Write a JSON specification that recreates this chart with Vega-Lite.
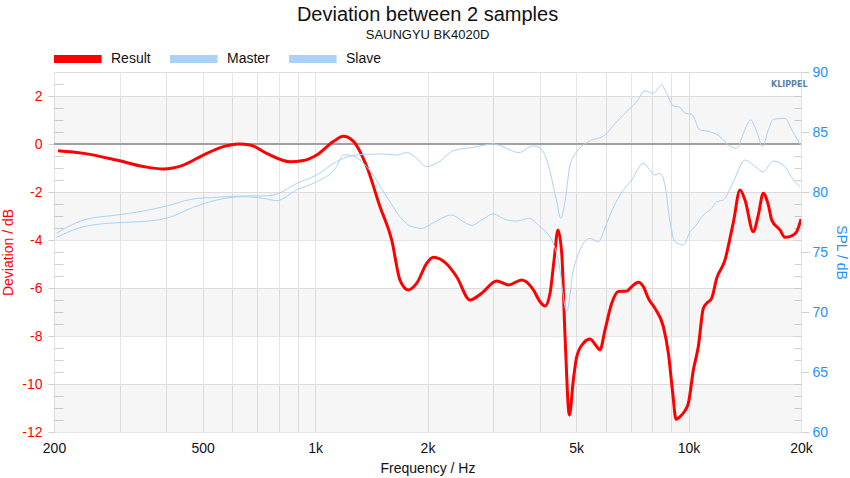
{
  "$schema": "https://vega.github.io/schema/vega-lite/v6.json",
  "width": 747,
  "height": 360,
  "autosize": {"type": "none"},
  "padding": {"left": 54, "top": 72, "right": 49, "bottom": 46},
  "background": "white",
  "title": {
    "text": "Deviation between 2 samples",
    "subtitle": "SAUNGYU BK4020D",
    "font": "Liberation Sans",
    "subtitleFont": "Liberation Sans",
    "fontSize": 20,
    "subtitleFontSize": 13,
    "fontWeight": "normal",
    "color": "#111111",
    "subtitleColor": "#111111",
    "anchor": "middle",
    "offset": 8,
    "subtitlePadding": 4
  },
  "config": {
    "font": "Liberation Sans",
    "view": {"stroke": "#dddddd"},
    "legend": {
      "orient": "none",
      "legendX": 14.8,
      "legendY": -22,
      "direction": "horizontal",
      "title": null,
      "symbolType": "M-4.76,0H4.76",
      "symbolSize": 100,
      "symbolStrokeWidth": 8,
      "labelFontSize": 14,
      "labelFont": "Liberation Sans",
      "labelColor": "#111111",
      "labelOffset": 24.2,
      "columnPadding": 3
    }
  },
  "datasets": {
    "curves": [
      {"series": "Result", "freq": 205, "value": -0.28},
      {"series": "Result", "freq": 240, "value": -0.39},
      {"series": "Result", "freq": 294, "value": -0.67},
      {"series": "Result", "freq": 347, "value": -0.94},
      {"series": "Result", "freq": 392, "value": -1.04},
      {"series": "Result", "freq": 444, "value": -0.88},
      {"series": "Result", "freq": 502, "value": -0.46},
      {"series": "Result", "freq": 568, "value": -0.11},
      {"series": "Result", "freq": 623, "value": 0.0},
      {"series": "Result", "freq": 670, "value": -0.04},
      {"series": "Result", "freq": 742, "value": -0.39},
      {"series": "Result", "freq": 857, "value": -0.74},
      {"series": "Result", "freq": 930, "value": -0.69},
      {"series": "Result", "freq": 1010, "value": -0.46},
      {"series": "Result", "freq": 1119, "value": 0.1},
      {"series": "Result", "freq": 1190, "value": 0.32},
      {"series": "Result", "freq": 1265, "value": 0.12},
      {"series": "Result", "freq": 1375, "value": -0.94},
      {"series": "Result", "freq": 1492, "value": -2.61},
      {"series": "Result", "freq": 1604, "value": -4.0},
      {"series": "Result", "freq": 1688, "value": -5.67},
      {"series": "Result", "freq": 1777, "value": -6.08},
      {"series": "Result", "freq": 1872, "value": -5.8},
      {"series": "Result", "freq": 1990, "value": -4.97},
      {"series": "Result", "freq": 2073, "value": -4.72},
      {"series": "Result", "freq": 2251, "value": -5.0},
      {"series": "Result", "freq": 2394, "value": -5.53},
      {"series": "Result", "freq": 2600, "value": -6.5},
      {"series": "Result", "freq": 2793, "value": -6.22},
      {"series": "Result", "freq": 3064, "value": -5.71},
      {"series": "Result", "freq": 3291, "value": -5.87},
      {"series": "Result", "freq": 3575, "value": -5.67},
      {"series": "Result", "freq": 3842, "value": -6.08},
      {"series": "Result", "freq": 4002, "value": -6.57},
      {"series": "Result", "freq": 4128, "value": -6.75},
      {"series": "Result", "freq": 4257, "value": -6.22},
      {"series": "Result", "freq": 4364, "value": -4.83},
      {"series": "Result", "freq": 4470, "value": -3.58},
      {"series": "Result", "freq": 4575, "value": -4.55},
      {"series": "Result", "freq": 4670, "value": -8.03},
      {"series": "Result", "freq": 4796, "value": -11.29},
      {"series": "Result", "freq": 4915, "value": -9.83},
      {"series": "Result", "freq": 5019, "value": -8.86},
      {"series": "Result", "freq": 5228, "value": -8.3},
      {"series": "Result", "freq": 5446, "value": -8.13},
      {"series": "Result", "freq": 5676, "value": -8.44},
      {"series": "Result", "freq": 5792, "value": -8.58},
      {"series": "Result", "freq": 5973, "value": -7.75},
      {"series": "Result", "freq": 6227, "value": -6.64},
      {"series": "Result", "freq": 6485, "value": -6.15},
      {"series": "Result", "freq": 6831, "value": -6.13},
      {"series": "Result", "freq": 7046, "value": -5.94},
      {"series": "Result", "freq": 7336, "value": -5.76},
      {"series": "Result", "freq": 7565, "value": -5.94},
      {"series": "Result", "freq": 7804, "value": -6.43},
      {"series": "Result", "freq": 8131, "value": -6.85},
      {"series": "Result", "freq": 8560, "value": -7.61},
      {"series": "Result", "freq": 8830, "value": -8.72},
      {"series": "Result", "freq": 9071, "value": -10.39},
      {"series": "Result", "freq": 9257, "value": -11.47},
      {"series": "Result", "freq": 9490, "value": -11.36},
      {"series": "Result", "freq": 9786, "value": -11.11},
      {"series": "Result", "freq": 9989, "value": -10.8},
      {"series": "Result", "freq": 10300, "value": -9.42},
      {"series": "Result", "freq": 10620, "value": -8.44},
      {"series": "Result", "freq": 10950, "value": -6.85},
      {"series": "Result", "freq": 11180, "value": -6.64},
      {"series": "Result", "freq": 11530, "value": -6.43},
      {"series": "Result", "freq": 11890, "value": -5.6},
      {"series": "Result", "freq": 12520, "value": -4.83},
      {"series": "Result", "freq": 13050, "value": -3.58},
      {"series": "Result", "freq": 13190, "value": -3.24},
      {"series": "Result", "freq": 13730, "value": -1.92},
      {"series": "Result", "freq": 14160, "value": -2.33},
      {"series": "Result", "freq": 14900, "value": -3.65},
      {"series": "Result", "freq": 15370, "value": -2.96},
      {"series": "Result", "freq": 15850, "value": -2.05},
      {"series": "Result", "freq": 16350, "value": -2.54},
      {"series": "Result", "freq": 16700, "value": -3.17},
      {"series": "Result", "freq": 17570, "value": -3.58},
      {"series": "Result", "freq": 18120, "value": -3.89},
      {"series": "Result", "freq": 19080, "value": -3.79},
      {"series": "Result", "freq": 19480, "value": -3.65},
      {"series": "Result", "freq": 20000, "value": -3.13},

      {"series": "Master", "freq": 203, "value": 76.56},
      {"series": "Master", "freq": 240, "value": 77.67},
      {"series": "Master", "freq": 294, "value": 78.08},
      {"series": "Master", "freq": 340, "value": 78.36},
      {"series": "Master", "freq": 400, "value": 78.83},
      {"series": "Master", "freq": 472, "value": 79.42},
      {"series": "Master", "freq": 545, "value": 79.56},
      {"series": "Master", "freq": 643, "value": 79.67},
      {"series": "Master", "freq": 727, "value": 79.67},
      {"series": "Master", "freq": 790, "value": 79.83},
      {"series": "Master", "freq": 893, "value": 80.72},
      {"series": "Master", "freq": 1010, "value": 81.42},
      {"series": "Master", "freq": 1142, "value": 82.53},
      {"series": "Master", "freq": 1190, "value": 82.8},
      {"series": "Master", "freq": 1265, "value": 83.05},
      {"series": "Master", "freq": 1375, "value": 83.14},
      {"series": "Master", "freq": 1523, "value": 83.17},
      {"series": "Master", "freq": 1654, "value": 83.08},
      {"series": "Master", "freq": 1759, "value": 83.28},
      {"series": "Master", "freq": 1852, "value": 82.94},
      {"series": "Master", "freq": 1990, "value": 82.11},
      {"series": "Master", "freq": 2117, "value": 82.39},
      {"series": "Master", "freq": 2345, "value": 83.44},
      {"series": "Master", "freq": 2653, "value": 83.72},
      {"series": "Master", "freq": 3002, "value": 84.0},
      {"series": "Master", "freq": 3260, "value": 83.64},
      {"series": "Master", "freq": 3501, "value": 83.28},
      {"series": "Master", "freq": 3840, "value": 83.83},
      {"series": "Master", "freq": 4002, "value": 83.7},
      {"series": "Master", "freq": 4170, "value": 82.67},
      {"series": "Master", "freq": 4257, "value": 81.69},
      {"series": "Master", "freq": 4437, "value": 79.19},
      {"series": "Master", "freq": 4547, "value": 77.81},
      {"series": "Master", "freq": 4669, "value": 79.19},
      {"series": "Master", "freq": 4815, "value": 82.25},
      {"series": "Master", "freq": 5019, "value": 83.36},
      {"series": "Master", "freq": 5389, "value": 84.19},
      {"series": "Master", "freq": 5973, "value": 84.75},
      {"series": "Master", "freq": 6420, "value": 85.86},
      {"series": "Master", "freq": 6970, "value": 86.97},
      {"series": "Master", "freq": 7264, "value": 87.53},
      {"series": "Master", "freq": 7645, "value": 88.44},
      {"series": "Master", "freq": 8045, "value": 88.22},
      {"series": "Master", "freq": 8470, "value": 88.92},
      {"series": "Master", "freq": 8737, "value": 88.22},
      {"series": "Master", "freq": 9099, "value": 87.19},
      {"series": "Master", "freq": 9490, "value": 87.06},
      {"series": "Master", "freq": 9786, "value": 86.56},
      {"series": "Master", "freq": 10195, "value": 86.47},
      {"series": "Master", "freq": 10730, "value": 85.17},
      {"series": "Master", "freq": 11410, "value": 85.03},
      {"series": "Master", "freq": 12140, "value": 84.61},
      {"series": "Master", "freq": 12780, "value": 83.92},
      {"series": "Master", "freq": 13460, "value": 83.64},
      {"series": "Master", "freq": 14020, "value": 84.89},
      {"series": "Master", "freq": 14670, "value": 86.0},
      {"series": "Master", "freq": 15220, "value": 85.03},
      {"series": "Master", "freq": 15790, "value": 83.78},
      {"series": "Master", "freq": 16350, "value": 85.17},
      {"series": "Master", "freq": 16860, "value": 86.06},
      {"series": "Master", "freq": 18120, "value": 86.14},
      {"series": "Master", "freq": 18890, "value": 85.17},
      {"series": "Master", "freq": 20000, "value": 83.86},

      {"series": "Slave", "freq": 203, "value": 76.22},
      {"series": "Slave", "freq": 240, "value": 77.11},
      {"series": "Slave", "freq": 294, "value": 77.44},
      {"series": "Slave", "freq": 340, "value": 77.53},
      {"series": "Slave", "freq": 400, "value": 77.81},
      {"series": "Slave", "freq": 472, "value": 78.72},
      {"series": "Slave", "freq": 545, "value": 79.33},
      {"series": "Slave", "freq": 643, "value": 79.61},
      {"series": "Slave", "freq": 727, "value": 79.47},
      {"series": "Slave", "freq": 790, "value": 79.28},
      {"series": "Slave", "freq": 893, "value": 80.17},
      {"series": "Slave", "freq": 1010, "value": 80.86},
      {"series": "Slave", "freq": 1142, "value": 82.11},
      {"series": "Slave", "freq": 1190, "value": 83.1},
      {"series": "Slave", "freq": 1265, "value": 83.0},
      {"series": "Slave", "freq": 1375, "value": 82.11},
      {"series": "Slave", "freq": 1555, "value": 79.61},
      {"series": "Slave", "freq": 1688, "value": 77.94},
      {"series": "Slave", "freq": 1796, "value": 77.17},
      {"series": "Slave", "freq": 1930, "value": 76.97},
      {"series": "Slave", "freq": 2073, "value": 77.44},
      {"series": "Slave", "freq": 2322, "value": 78.08},
      {"series": "Slave", "freq": 2494, "value": 77.53},
      {"series": "Slave", "freq": 2627, "value": 77.22},
      {"series": "Slave", "freq": 2793, "value": 77.67},
      {"series": "Slave", "freq": 3002, "value": 78.17},
      {"series": "Slave", "freq": 3226, "value": 77.72},
      {"series": "Slave", "freq": 3466, "value": 77.58},
      {"series": "Slave", "freq": 3723, "value": 77.81},
      {"series": "Slave", "freq": 4002, "value": 77.11},
      {"series": "Slave", "freq": 4345, "value": 75.7},
      {"series": "Slave", "freq": 4480, "value": 74.33},
      {"series": "Slave", "freq": 4718, "value": 70.03},
      {"series": "Slave", "freq": 4915, "value": 73.5},
      {"series": "Slave", "freq": 5019, "value": 74.47},
      {"series": "Slave", "freq": 5446, "value": 76.14},
      {"series": "Slave", "freq": 5731, "value": 75.86},
      {"series": "Slave", "freq": 5973, "value": 77.0},
      {"series": "Slave", "freq": 6160, "value": 78.08},
      {"series": "Slave", "freq": 6552, "value": 79.75},
      {"series": "Slave", "freq": 7043, "value": 81.0},
      {"series": "Slave", "freq": 7566, "value": 82.39},
      {"series": "Slave", "freq": 8129, "value": 81.42},
      {"series": "Slave", "freq": 8384, "value": 81.56},
      {"series": "Slave", "freq": 8647, "value": 80.58},
      {"series": "Slave", "freq": 8916, "value": 77.53},
      {"series": "Slave", "freq": 9196, "value": 75.86},
      {"series": "Slave", "freq": 9684, "value": 75.58},
      {"series": "Slave", "freq": 10090, "value": 76.69},
      {"series": "Slave", "freq": 10405, "value": 77.11},
      {"series": "Slave", "freq": 10950, "value": 78.08},
      {"series": "Slave", "freq": 11530, "value": 78.64},
      {"series": "Slave", "freq": 11890, "value": 79.19},
      {"series": "Slave", "freq": 12390, "value": 79.33},
      {"series": "Slave", "freq": 13180, "value": 80.86},
      {"series": "Slave", "freq": 14170, "value": 82.67},
      {"series": "Slave", "freq": 14910, "value": 82.25},
      {"series": "Slave", "freq": 15850, "value": 81.69},
      {"series": "Slave", "freq": 16860, "value": 82.58},
      {"series": "Slave", "freq": 18120, "value": 82.11},
      {"series": "Slave", "freq": 19080, "value": 81.0},
      {"series": "Slave", "freq": 19880, "value": 80.44}
    ],
    "bands": [
      {"lo": -12, "hi": -10},
      {"lo": -8, "hi": -6},
      {"lo": -4, "hi": -2},
      {"lo": 0, "hi": 2}
    ],
    "zero": [{"level": 0}],
    "logo": [{"name": "KLIPPEL", "freq": 18600, "level": 2.45}],
    "spl": [{"level": 75}]
  },
  "layer": [
    {
      "data": {"name": "bands"},
      "mark": {"type": "rect", "fill": "#000000", "fillOpacity": 0.035},
      "encoding": {
        "x": {
          "datum": 200,
          "type": "quantitative",
          "scale": {"type": "log", "domain": [200, 20000], "nice": false},
          "axis": {
            "orient": "bottom",
            "values": [200, 300, 400, 500, 600, 700, 800, 900, 1000, 2000, 3000, 4000, 5000, 6000, 7000, 8000, 9000, 10000, 20000],
            "labelExpr": "indexof([200, 500, 1000, 2000, 5000, 10000, 20000], datum.value) >= 0 ? (datum.value >= 1000 ? (datum.value / 1000) + 'k' : '' + datum.value) : ''",
            "labelFontSize": 14,
            "labelFont": "Liberation Sans",
            "labelColor": "#111111",
            "labelPadding": 9,
            "labelFlush": false,
            "labelOverlap": false,
            "ticks": false,
            "grid": true,
            "gridColor": "#e4e4e4",
            "domain": false,
            "title": "Frequency / Hz",
            "titleFontSize": 14,
            "titleFont": "Liberation Sans",
            "titleFontWeight": "normal",
            "titleColor": "#111111",
            "titlePadding": 6
          }
        },
        "x2": {"datum": 20000},
        "y": {
          "field": "lo",
          "type": "quantitative",
          "scale": {"domain": [-12, 3], "nice": false, "zero": false},
          "axis": {
            "orient": "left",
            "values": [-12, -10, -8, -6, -4, -2, 0, 2],
            "labelExpr": "'' + datum.value",
            "labelFontSize": 14,
            "labelFont": "Liberation Sans",
            "labelColor": "#ff0000",
            "labelPadding": 6,
            "labelFlush": false,
            "labelOverlap": false,
            "grid": true,
            "gridColor": "#e4e4e4",
            "tickColor": "#d0d0d0",
            "tickSize": 6,
            "domain": false,
            "title": "Deviation / dB",
            "titleFontSize": 14,
            "titleFont": "Liberation Sans",
            "titleFontWeight": "normal",
            "titleColor": "#ff0000",
            "titlePadding": 6
          }
        },
        "y2": {"field": "hi"}
      }
    },
    {
      "data": {"name": "zero"},
      "mark": {"type": "rule", "color": "#a0a0a0", "strokeWidth": 2},
      "encoding": {
        "x": {"datum": 200, "type": "quantitative"},
        "x2": {"datum": 20000},
        "y": {
          "field": "level",
          "type": "quantitative",
          "scale": {"domain": [-12, 3], "nice": false, "zero": false},
          "axis": {
            "orient": "left",
            "values": [-11.5, -11, -10.5, -9.5, -9, -8.5, -7.5, -7, -6.5, -5.5, -5, -4.5, -3.5, -3, -2.5, -1.5, -1, -0.5, 0.5, 1, 1.5, 2.5],
            "labels": false,
            "grid": false,
            "domain": false,
            "tickColor": "#d0d0d0",
            "tickSize": -9,
            "title": null
          }
        }
      }
    },
    {
      "data": {"name": "logo"},
      "mark": {"type": "text", "fontSize": 8, "fontWeight": "bold", "color": "#5b82ad", "font": "DejaVu Sans", "align": "center"},
      "encoding": {
        "x": {"field": "freq", "type": "quantitative"},
        "y": {"field": "level", "type": "quantitative", "scale": {"domain": [-12, 3], "nice": false, "zero": false}, "axis": null},
        "text": {"field": "name"}
      }
    },
    {
      "data": {"name": "curves"},
      "transform": [{"filter": "datum.series === 'Result'"}],
      "mark": {"type": "line", "strokeWidth": 3, "interpolate": "monotone", "clip": true},
      "encoding": {
        "x": {"field": "freq", "type": "quantitative"},
        "y": {"field": "value", "type": "quantitative", "scale": {"domain": [-12, 3], "nice": false, "zero": false}, "axis": null},
        "color": {
          "field": "series",
          "type": "nominal",
          "scale": {"domain": ["Result", "Master", "Slave"], "range": ["#ff0000", "#aad2f7", "#aad2f7"]}
        }
      }
    },
    {
      "data": {"name": "spl"},
      "mark": {"type": "rule", "opacity": 0},
      "encoding": {
        "y": {
          "field": "level",
          "type": "quantitative",
          "scale": {"domain": [60, 90], "nice": false, "zero": false},
          "axis": {
            "orient": "right",
            "values": [61, 62, 63, 64, 66, 67, 68, 69, 71, 72, 73, 74, 76, 77, 78, 79, 81, 82, 83, 84, 86, 87, 88, 89],
            "labels": false,
            "grid": false,
            "domain": false,
            "tickColor": "#d0d0d0",
            "tickSize": -7,
            "title": null
          }
        }
      }
    },
    {
      "data": {"name": "curves"},
      "transform": [{"filter": "datum.series !== 'Result'"}],
      "mark": {"type": "line", "strokeWidth": 1, "interpolate": "monotone", "clip": true},
      "encoding": {
        "x": {"field": "freq", "type": "quantitative"},
        "y": {
          "field": "value",
          "type": "quantitative",
          "scale": {"domain": [60, 90], "nice": false, "zero": false},
          "axis": {
            "orient": "right",
            "values": [60, 65, 70, 75, 80, 85, 90],
            "labelFontSize": 14,
            "labelFont": "Liberation Sans",
            "labelColor": "#1e90ff",
            "labelPadding": 3,
            "labelFlush": false,
            "labelOverlap": false,
            "grid": false,
            "tickColor": "#d0d0d0",
            "tickSize": 8,
            "domain": false,
            "title": "SPL / dB",
            "titleFontSize": 14,
            "titleFont": "Liberation Sans",
            "titleFontWeight": "normal",
            "titleColor": "#1e90ff",
            "titlePadding": 6
          }
        },
        "color": {
          "field": "series",
          "type": "nominal",
          "scale": {"domain": ["Result", "Master", "Slave"], "range": ["#ff0000", "#aad2f7", "#aad2f7"]}
        },
        "detail": {"field": "series"}
      }
    }
  ],
  "resolve": {"scale": {"y": "independent"}, "axis": {"y": "independent"}}
}
